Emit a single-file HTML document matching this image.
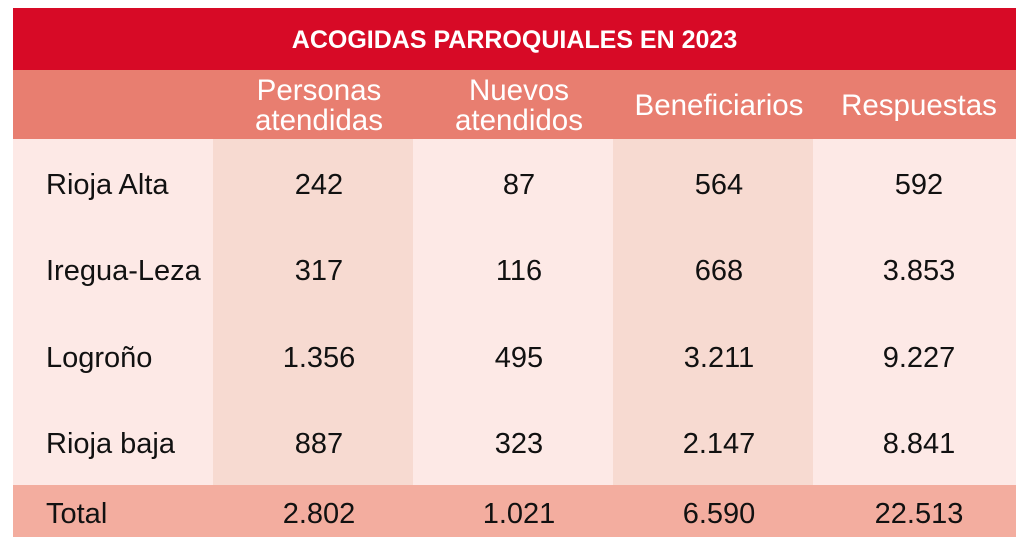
<!DOCTYPE html>
<html><head><meta charset="utf-8"><style>
body{margin:0;width:1028px;height:552px;background:#fff;font-family:"Liberation Sans",Arial,sans-serif;position:relative;overflow:hidden}
div{position:absolute;box-sizing:border-box}
.t{left:13px;top:8px;width:1003px;height:62px;background:#d70a26;color:#fff;font-weight:bold;font-size:25px;text-align:center;line-height:64px}
.h{left:13px;top:70px;width:1003px;height:69px;background:#e87e70}
.b{left:13px;top:139px;width:1003px;height:346px;background:#fde9e6}
.d{top:139px;height:346px;width:200px;background:#f7dad1}
.tot{left:13px;top:485px;width:1003px;height:52px;background:#f3ad9f}
.hc{top:70px;height:71px;width:200px;color:#fff;font-size:29.5px;line-height:30px;display:flex;align-items:center;justify-content:center;text-align:center}
.c{width:200px;text-align:center;font-size:29px;color:#111;line-height:30px}
.l{left:46px;font-size:29px;color:#111;line-height:30px}
</style></head><body>
<div class="t">ACOGIDAS PARROQUIALES EN 2023</div>
<div class="h"></div>
<div class="b"></div>
<div class="d" style="left:213px"></div>
<div class="d" style="left:613px"></div>
<div class="tot"></div>
<div class="hc" style="left:219px">Personas<br>atendidas</div>
<div class="hc" style="left:419px">Nuevos<br>atendidos</div>
<div class="hc" style="left:619px">Beneficiarios</div>
<div class="hc" style="left:819px">Respuestas</div>

<div class="l" style="top:170px">Rioja Alta</div>
<div class="c" style="left:219px;top:170px">242</div>
<div class="c" style="left:419px;top:170px">87</div>
<div class="c" style="left:619px;top:170px">564</div>
<div class="c" style="left:819px;top:170px">592</div>

<div class="l" style="top:256px">Iregua-Leza</div>
<div class="c" style="left:219px;top:256px">317</div>
<div class="c" style="left:419px;top:256px">116</div>
<div class="c" style="left:619px;top:256px">668</div>
<div class="c" style="left:819px;top:256px">3.853</div>

<div class="l" style="top:343px">Logroño</div>
<div class="c" style="left:219px;top:343px">1.356</div>
<div class="c" style="left:419px;top:343px">495</div>
<div class="c" style="left:619px;top:343px">3.211</div>
<div class="c" style="left:819px;top:343px">9.227</div>

<div class="l" style="top:429px">Rioja baja</div>
<div class="c" style="left:219px;top:429px">887</div>
<div class="c" style="left:419px;top:429px">323</div>
<div class="c" style="left:619px;top:429px">2.147</div>
<div class="c" style="left:819px;top:429px">8.841</div>

<div class="l" style="top:499px">Total</div>
<div class="c" style="left:219px;top:499px">2.802</div>
<div class="c" style="left:419px;top:499px">1.021</div>
<div class="c" style="left:619px;top:499px">6.590</div>
<div class="c" style="left:819px;top:499px">22.513</div>
</body></html>
